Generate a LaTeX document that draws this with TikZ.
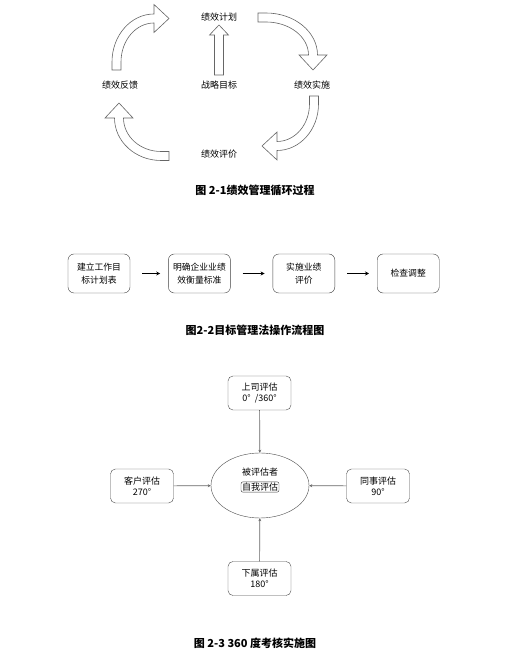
\documentclass[tikz,border=0pt]{standalone}
\usepackage{fontspec}
\setmainfont{Noto Sans CJK SC}
\usetikzlibrary{positioning,shapes.geometric,arrows.meta}

\tikzset{
  cyclearrow/.style={draw=black!60, fill=white, line width=0.6pt},
  cycletext/.style={font=\fontsize{9}{10}\selectfont},
  stepbox/.style={draw=black!75, rounded corners=6pt, minimum width=62pt,
    minimum height=39pt, align=center, font=\fontsize{8.8}{12.5}\selectfont},
  steparrow/.style={-{Stealth[length=4pt,width=4pt]}, line width=0.8pt,
    shorten <=12pt, shorten >=8pt},
  rater/.style={draw=black!70, rounded corners=5pt, minimum width=63pt,
    minimum height=34pt, align=center, font=\fontsize{9}{11}\selectfont},
  raterarrow/.style={-{Stealth[length=3pt,width=3pt]}, draw=black!60, line width=0.7pt},
  figcap/.style={font=\bfseries\fontsize{11}{13}\selectfont},
}

\begin{document}
\begin{tikzpicture}[x=1pt,y=1pt]
\useasboundingbox (0,0) rectangle (513,650);

% Figure 2-1: cycle
\foreach \cx/\cy/\rot/\ra/\rb in {154/588/0/37.5/43.5, 266/595/-90/37.5/47,
                                  277/546/180/37/42, 161/532/90/38/42} {
  \pgfmathsetmacro\rao{\ra+4.5}
  \pgfmathsetmacro\rai{\ra-4.5}
  \pgfmathsetmacro\rbo{\rb+4.5}
  \pgfmathsetmacro\rbi{\rb-4.5}
  \pgfmathsetmacro\hu{\rb+14}
  \pgfmathsetmacro\hd{\rb-14}
  \begin{scope}[shift={(\cx,\cy)}, rotate=\rot]
    \draw[cyclearrow] (-\rao,-8) -- (-\rao,0)
      arc[start angle=180, end angle=90, x radius=\rao pt, y radius=\rbo pt]
      -- (0,\hu) -- (15,\rb) -- (0,\hd) -- (0,\rbi)
      arc[start angle=90, end angle=180, x radius=\rai pt, y radius=\rbi pt]
      -- (-\rai,-8) -- cycle;
  \end{scope}
}
\draw[cyclearrow] (214.5,575) -- (214.5,615) -- (209.5,615) -- (219,625)
  -- (228.5,615) -- (223.5,615) -- (223.5,575) -- cycle;

\node[cycletext] (plan) at (219,633) {绩效计划};
\node[cycletext] (goal) at (219,565) {战略目标};
\node[cycletext] (act) at (312,565) {绩效实施};
\node[cycletext] (feedback) at (120,565) {绩效反馈};
\node[cycletext] (review) at (219,496) {绩效评价};
\node[figcap] (cap1) at (255,460) {图 2-1绩效管理循环过程};

% Figure 2-2: MBO steps
\node[stepbox] (target) at (99,376.5) {建立工作目\\标计划表};
\node[stepbox, right=38pt of target] (norm) {明确企业业绩\\效衡量标准};
\node[stepbox, right=42pt of norm] (rate) {实施业绩\\评价};
\node[stepbox, right=42pt of rate] (adjust) {检查调整};
\draw[steparrow] (target) -- (norm);
\draw[steparrow] (norm) -- (rate);
\draw[steparrow] (rate) -- (adjust);
\node[figcap] (cap2) at (255,320) {图2-2目标管理法操作流程图};

% Figure 2-3: 360 degree
\node[ellipse, draw=black!70, minimum width=98pt, minimum height=65pt] (ratee) at (260,164.5) {};
\node[font=\fontsize{9}{10}\selectfont] (rateename) at (260,178) {被评估者};
\node[draw=black!75, rounded corners=2pt, inner sep=1pt,
  font=\fontsize{9}{10}\selectfont] (self) at (260,163) {自我评估};
\node[rater] (boss) at (259.5,257) {上司评估\\0°\ \ /360°};
\node[rater] (client) at (142,164) {客户评估\\270°};
\node[rater] (peer) at (378,164) {同事评估\\90°};
\node[rater] (junior) at (259.5,71.5) {下属评估\\180°};
\draw[raterarrow] (boss) -- (ratee);
\draw[raterarrow] (client) -- (ratee);
\draw[raterarrow] (peer) -- (ratee);
\draw[raterarrow] (junior) -- (ratee);
\node[figcap] (cap3) at (255,7) {图 2-3 360 度考核实施图};

\end{tikzpicture}
\end{document}
